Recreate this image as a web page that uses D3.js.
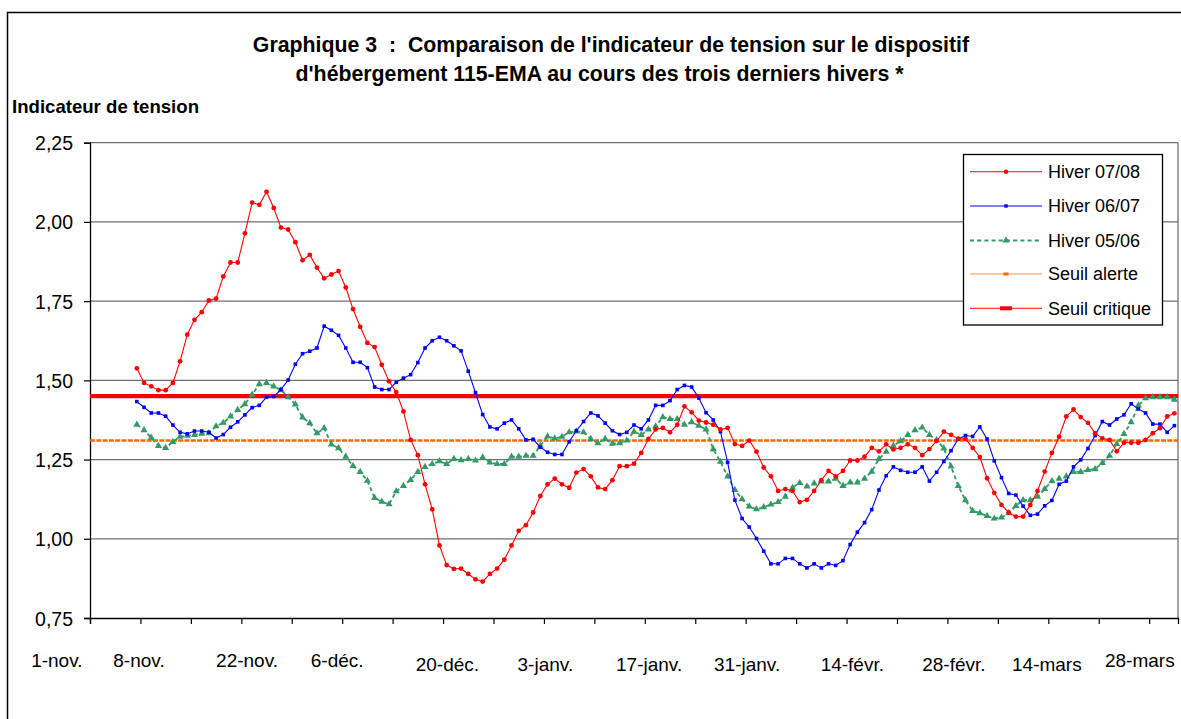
<!DOCTYPE html>
<html><head><meta charset="utf-8">
<script src="https://cdn.jsdelivr.net/npm/d3@7"></script>
<style>
body{margin:0;background:#fff}
svg{display:block}
text{font-family:"Liberation Sans",Arial,Helvetica,sans-serif;fill:#000}
</style>
</head><body><svg id="c" width="1181" height="719"></svg>
<script>
const title1 = "Graphique 3  :  Comparaison de l'indicateur de tension sur le dispositif";
const title2 = "d'hébergement 115-EMA au cours des trois derniers hivers *";
const yTitle = "Indicateur de tension";
const yTicks = [0.75, 1.00, 1.25, 1.50, 1.75, 2.00, 2.25];
const tickLabels = ["1-nov.","8-nov.","22-nov.","6-déc.","20-déc.","3-janv.","17-janv.","31-janv.","14-févr.","28-févr.","14-mars","28-mars"];
const tickLabelDays = [-4.6, 6.8, 21.8, 34.3, 49.6, 63.2, 77.6, 91.2, 105.8, 119.9, 132.8, 145.7];
const nDays = 151;       // 1-nov. -> 31-mars
const firstDay = 6;      // first plotted day (7-nov.)
const seriesNames = ["Hiver 07/08","Hiver 06/07","Hiver 05/06","Seuil alerte","Seuil critique"];

const hiver0708 = [
1.538,1.492,1.481,1.469,1.469,1.492,1.560,1.644,1.691,1.715,1.752,1.758,1.828,1.872,1.872,1.964,2.061,2.054,2.095,2.044,
1.982,1.976,1.936,1.879,1.896,1.856,1.822,1.834,1.845,1.793,1.725,1.669,1.618,1.605,1.549,1.497,1.463,1.402,1.312,1.264,1.172,1.093,0.979,0.917,0.905,
0.906,0.889,0.872,0.865,0.889,0.906,0.934,0.979,1.025,1.043,1.083,1.135,1.172,1.190,1.172,1.161,1.209,1.220,1.197,1.162,1.157,1.185,1.229,1.229,1.237,
1.271,1.315,1.345,1.350,1.336,1.360,1.418,1.399,1.373,1.367,1.360,1.345,1.350,1.299,1.293,1.310,1.275,1.225,1.197,1.151,1.157,1.151,1.116,1.123,1.151,
1.185,1.214,1.197,1.214,1.247,1.247,1.259,1.287,1.276,1.298,1.282,1.287,1.298,1.287,1.264,1.283,1.309,1.338,1.328,1.316,1.315,1.287,1.258,1.191,1.145,
1.107,1.083,1.070,1.070,1.107,1.151,1.212,1.271,1.322,1.386,1.408,1.384,1.366,1.333,1.317,1.312,1.276,1.303,1.303,1.303,1.312,1.333,1.349,1.386,1.396];

const hiver0607 = [
1.433,1.415,1.397,1.397,1.387,1.359,1.336,1.331,1.340,1.340,1.336,1.318,1.329,1.352,1.369,1.391,1.414,1.421,1.447,1.449,
1.471,1.501,1.551,1.584,1.592,1.602,1.671,1.658,1.642,1.602,1.557,1.557,1.540,1.479,1.471,1.471,1.494,1.507,1.518,1.556,1.602,1.625,1.636,1.625,1.609,
1.593,1.529,1.461,1.392,1.353,1.347,1.365,1.375,1.347,1.312,1.314,1.289,1.273,1.266,1.266,1.306,1.341,1.370,1.397,1.388,1.365,1.341,1.329,1.336,1.359,
1.347,1.375,1.421,1.421,1.436,1.471,1.484,1.479,1.444,1.398,1.375,1.338,1.241,1.122,1.064,1.037,1.001,0.961,0.921,0.921,0.938,0.938,0.921,0.908,0.921,
0.908,0.921,0.916,0.931,0.982,1.021,1.051,1.092,1.154,1.199,1.227,1.216,1.210,1.210,1.227,1.182,1.210,1.244,1.278,1.315,1.326,1.323,1.353,1.315,1.246,
1.193,1.143,1.138,1.103,1.074,1.078,1.104,1.121,1.172,1.182,1.227,1.249,1.285,1.326,1.370,1.359,1.378,1.391,1.426,1.410,1.397,1.362,1.362,1.336,1.357];

const hiver0506 = [
1.360,1.343,1.319,1.293,1.287,1.306,1.322,1.325,1.328,1.332,1.333,1.355,1.366,1.386,1.407,1.425,1.455,1.488,1.492,1.481,
1.469,1.447,1.424,1.383,1.365,1.333,1.349,1.298,1.286,1.259,1.230,1.211,1.183,1.129,1.117,1.109,1.150,1.167,1.186,1.211,1.227,1.236,1.245,1.236,1.252,
1.248,1.252,1.247,1.257,1.241,1.236,1.236,1.259,1.259,1.262,1.262,1.294,1.323,1.317,1.322,1.336,1.339,1.336,1.315,1.302,1.315,1.300,1.302,1.310,1.338,
1.328,1.345,1.355,1.384,1.378,1.378,1.360,1.368,1.357,1.345,1.283,1.243,1.197,1.154,1.125,1.102,1.093,1.100,1.108,1.116,1.133,1.161,1.176,1.165,1.175,
1.181,1.181,1.190,1.167,1.178,1.178,1.190,1.212,1.252,1.275,1.294,1.308,1.328,1.343,1.351,1.328,1.311,1.285,1.228,1.167,1.122,1.088,1.081,1.072,1.064,
1.067,1.081,1.104,1.122,1.122,1.133,1.157,1.182,1.190,1.197,1.211,1.211,1.217,1.220,1.239,1.262,1.299,1.331,1.368,1.421,1.444,1.447,1.447,1.447,1.439];

const seuilAlerte = 1.31;
const seuilCritique = 1.45;

const RED = "#ff0000", BLUE = "#0000ff", GREEN = "#339966", ORANGE = "#ff6600";

const svg = d3.select("#c");
const L = 90, R = 1178, T = 142.7, B = 618;
const x = d3.scaleLinear().domain([0, nDays]).range([L, R]);
const y = d3.scaleLinear().domain([0.75, 2.25]).range([B, T]);
const px = (d, i) => x(firstDay + i + 0.5);

// outer frame
svg.append("path").attr("d", "M7.5,725 V12.5 H1190").attr("fill", "none").attr("stroke", "#000").attr("stroke-width", 1.5);

// titles
svg.append("text").attr("x", 611).attr("y", 52).attr("text-anchor", "middle")
  .style("white-space", "pre").attr("font-size", 21.3).attr("font-weight", "bold").text(title1);
svg.append("text").attr("x", 599.5).attr("y", 81).attr("text-anchor", "middle")
  .style("white-space", "pre").attr("font-size", 21.3).attr("font-weight", "bold").text(title2);
svg.append("text").attr("x", 12).attr("y", 112.5).attr("font-size", 18.6).attr("font-weight", "bold").text(yTitle);

// gridlines
svg.append("g").selectAll("line").data(yTicks.filter(v => v > 0.75)).join("line")
  .attr("x1", L).attr("x2", R).attr("y1", d => y(d)).attr("y2", d => y(d))
  .attr("stroke", "#707070").attr("stroke-width", 1.3);
svg.append("line").attr("x1", R).attr("x2", R).attr("y1", T).attr("y2", B)
  .attr("stroke", "#707070").attr("stroke-width", 1.3);

// y axis
const fmt = v => d3.format(".2f")(v).replace(".", ",");
const yAxis = d3.axisLeft(y).tickValues(yTicks).tickFormat(fmt).tickSize(6).tickPadding(11);
const gy = svg.append("g").attr("transform", `translate(${L},0)`).call(yAxis);
gy.select(".domain").attr("stroke", "#000").attr("stroke-width", 1.3);
gy.selectAll(".tick line").attr("stroke", "#000").attr("stroke-width", 1.2);
gy.selectAll(".tick text").attr("font-size", 19.5).attr("font-family", null).attr("dy", "0.36em");

// x axis ticks
const xAxis = d3.axisBottom(x).tickValues(d3.range(0, nDays, 7)).tickFormat("").tickSize(6);
const gx = svg.append("g").attr("transform", `translate(0,${B})`).call(xAxis);
gx.select(".domain").attr("stroke", "#000").attr("stroke-width", 1.3);
gx.selectAll(".tick line").attr("stroke", "#000").attr("stroke-width", 1.2);

// x labels
svg.append("g").selectAll("text").data(tickLabels).join("text")
  .attr("x", (d, i) => x(tickLabelDays[i]))
  .attr("y", (d, i) => (i >= 4 && i <= 10) ? 671 : 667)
  .attr("text-anchor", "middle").attr("font-size", 19).text(d => d);

// thresholds
svg.append("line").attr("x1", L).attr("x2", R).attr("y1", y(seuilAlerte)).attr("y2", y(seuilAlerte))
  .attr("stroke", ORANGE).attr("stroke-width", 2.6).attr("stroke-dasharray", "5,1.3");
svg.append("line").attr("x1", L).attr("x2", R).attr("y1", y(seuilCritique)).attr("y2", y(seuilCritique))
  .attr("stroke", RED).attr("stroke-width", 4.2);

const line = d3.line().x(px).y(d => y(d));

// Hiver 05/06
svg.append("path").datum(hiver0506).attr("d", line).attr("fill", "none")
  .attr("stroke", GREEN).attr("stroke-width", 1.8).attr("stroke-dasharray", "4,3");
const tri = d3.symbol().type(d3.symbolTriangle).size(22);
svg.append("g").selectAll("path").data(hiver0506).join("path")
  .attr("transform", (d, i) => `translate(${px(d, i)},${y(d)})`).attr("d", tri).attr("fill", GREEN);

// Hiver 06/07
svg.append("path").datum(hiver0607).attr("d", line).attr("fill", "none")
  .attr("stroke", BLUE).attr("stroke-width", 1.1);
svg.append("g").selectAll("rect").data(hiver0607).join("rect")
  .attr("x", (d, i) => px(d, i) - 1.8).attr("y", d => y(d) - 1.8).attr("width", 3.6).attr("height", 3.6).attr("fill", BLUE);

// Hiver 07/08
svg.append("path").datum(hiver0708).attr("d", line).attr("fill", "none")
  .attr("stroke", RED).attr("stroke-width", 1.1);
svg.append("g").selectAll("circle").data(hiver0708).join("circle")
  .attr("cx", px).attr("cy", d => y(d)).attr("r", 2.4).attr("fill", RED);

// legend
const lg = svg.append("g");
lg.append("rect").attr("x", 963.5).attr("y", 154.5).attr("width", 199).attr("height", 170.5)
  .attr("fill", "#fff").attr("stroke", "#000").attr("stroke-width", 1.3);
const ly = [171.7, 206, 240.5, 274, 308.3];
const lx1 = 970, lx2 = 1042, lm = 1006;
seriesNames.forEach((name, i) => {
  const yy = ly[i];
  const g = lg.append("g");
  if (i === 0) {
    g.append("line").attr("x1", lx1).attr("x2", lx2).attr("y1", yy).attr("y2", yy).attr("stroke", RED).attr("stroke-width", 1.1);
    g.append("circle").attr("cx", lm).attr("cy", yy).attr("r", 2.2).attr("fill", RED);
  } else if (i === 1) {
    g.append("line").attr("x1", lx1).attr("x2", lx2).attr("y1", yy).attr("y2", yy).attr("stroke", BLUE).attr("stroke-width", 1.1);
    g.append("rect").attr("x", lm - 1.7).attr("y", yy - 1.7).attr("width", 3.4).attr("height", 3.4).attr("fill", BLUE);
  } else if (i === 2) {
    g.append("line").attr("x1", lx1).attr("x2", lx2).attr("y1", yy).attr("y2", yy).attr("stroke", GREEN).attr("stroke-width", 1.8).attr("stroke-dasharray", "4,3.2");
    g.append("path").attr("transform", `translate(${lm},${yy})`).attr("d", tri).attr("fill", GREEN);
  } else if (i === 3) {
    g.append("line").attr("x1", lx1).attr("x2", lx2).attr("y1", yy).attr("y2", yy).attr("stroke", ORANGE).attr("stroke-width", 1.1).attr("opacity", 0.75);
    g.append("rect").attr("x", lm - 2.5).attr("y", yy - 1.5).attr("width", 5).attr("height", 3).attr("fill", ORANGE);
  } else {
    g.append("line").attr("x1", lx1).attr("x2", lx2).attr("y1", yy).attr("y2", yy).attr("stroke", RED).attr("stroke-width", 1.1);
    g.append("rect").attr("x", lm - 6).attr("y", yy - 2).attr("width", 12).attr("height", 4).attr("fill", RED);
  }
  g.append("text").attr("x", 1048).attr("y", yy + 6.3).attr("font-size", 18).text(name);
});
</script>
</body></html>
